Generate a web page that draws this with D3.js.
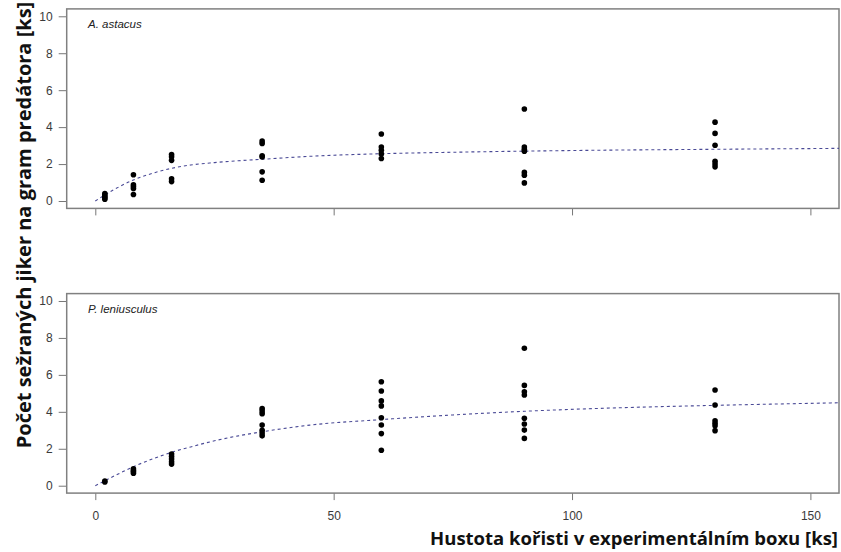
<!DOCTYPE html>
<html>
<head>
<meta charset="utf-8">
<script src="https://cdn.jsdelivr.net/npm/d3@7"></script>
<style>
    body { margin: 0; background: #fff; }
    svg { display: block; }
</style>
</head>
<body>
<svg id="chart" width="841" height="552"></svg>
<script>
// Prey densities used in the experiment
const densities = [2, 8, 16, 35, 60, 90, 130];

// Eaten eggs per gram of predator, A. astacus (one array per density)
const astacusValues = [
    [0.4, 0.32, 0.25, 0.18, 0.1],
    [1.42, 0.88, 0.78, 0.68, 0.35],
    [2.52, 2.4, 2.2, 1.2, 1.05],
    [3.25, 3.12, 2.45, 2.38, 1.58, 1.12],
    [3.63, 2.92, 2.75, 2.55, 2.3],
    [4.98, 2.92, 2.8, 2.7, 1.55, 1.4, 0.98],
    [4.27, 3.66, 3.02, 2.15, 2.0, 1.85],
];

// Eaten eggs per gram of predator, P. leniusculus
const leniusculusValues = [
    [0.25, 0.2],
    [0.92, 0.82, 0.75, 0.68],
    [1.72, 1.58, 1.45, 1.3, 1.17],
    [4.18, 4.05, 3.9, 3.28, 3.0, 2.85, 2.7],
    [5.63, 5.13, 4.59, 4.32, 3.68, 3.29, 2.82, 1.92],
    [7.44, 5.43, 5.09, 4.91, 3.65, 3.34, 3.01, 2.56],
    [5.18, 4.37, 3.52, 3.38, 3.25, 2.98],
];

// Fitted functional response curves
const curveX = [0, 2, 4, 8, 12, 16, 20, 25, 30, 35, 45, 60, 75, 90, 110, 130, 156];
const astacusCurve = [0, 0.33, 0.63, 1.14, 1.5, 1.77, 1.95, 2.08, 2.18, 2.26, 2.42, 2.56, 2.64, 2.7, 2.76, 2.8, 2.85];
const leniusculusCurve = [0, 0.27, 0.53, 1.03, 1.45, 1.81, 2.1, 2.43, 2.7, 2.92, 3.28, 3.58, 3.83, 4.03, 4.22, 4.35, 4.49];

// Ticks
const xTicks = [0, 50, 100, 150];
const yTicks = [0, 2, 4, 6, 8, 10];

const labelFont = '"Liberation Sans", Arial, sans-serif';
const titleFont = '"Open Sans", sans-serif';

const svg = d3.select('#chart');

// Shared x scale (R style: xlim 0..150 extended by 4%)
const xScale = d3.scaleLinear().domain([-6, 156]).range([66.7, 839]);

function styleTicks(axisGroup) {
    axisGroup.select('.domain').remove();
    axisGroup.selectAll('.tick line').attr('stroke', '#777');
    axisGroup.selectAll('.tick text')
      .attr('font-family', labelFont)
      .attr('font-size', 12)
      .attr('fill', '#3a3a3a');
}

function drawPanel(top, bottom, values, curve, species, showXLabels) {
    const yScale = d3.scaleLinear().domain([-0.4, 10.4]).range([bottom, top]);
    const g = svg.append('g');

    // Flatten points
    const points = [];
    densities.forEach((d, i) => {
        values[i].forEach((v) => points.push({ x: d, y: v }));
    });

    // Y axis
    const yAxis = d3.axisLeft(yScale).tickValues(yTicks).tickSize(8).tickPadding(6);
    const yG = g.append('g')
      .attr('transform', `translate(${xScale.range()[0]},0)`)
      .call(yAxis);
    styleTicks(yG);

    // X axis
    const xAxis = d3.axisBottom(xScale).tickValues(xTicks).tickSize(7).tickPadding(11);
    const xG = g.append('g')
      .attr('transform', `translate(0,${bottom})`)
      .call(xAxis);
    styleTicks(xG);
    if (!showXLabels) xG.selectAll('.tick text').remove();

    // Box around plot region
    g.append('rect')
      .attr('x', xScale.range()[0])
      .attr('y', top)
      .attr('width', xScale.range()[1] - xScale.range()[0])
      .attr('height', bottom - top)
      .attr('fill', 'none')
      .attr('stroke', '#808080')
      .attr('stroke-width', 1.5);

    // Fitted curve
    const line = d3.line()
      .x((d, i) => xScale(curveX[i]))
      .y((d) => yScale(d))
      .curve(d3.curveMonotoneX);
    g.append('path')
      .datum(curve)
      .attr('fill', 'none')
      .attr('stroke', '#4a4a96')
      .attr('stroke-width', 1.1)
      .attr('stroke-dasharray', '3,3')
      .attr('d', line);

    // Points
    g.selectAll('circle')
      .data(points)
      .join('circle')
      .attr('cx', (d) => xScale(d.x))
      .attr('cy', (d) => yScale(d.y))
      .attr('r', 2.8)
      .attr('fill', '#000');

    // Species label
    g.append('text')
      .attr('x', 88)
      .attr('y', top + 19)
      .attr('font-family', labelFont)
      .attr('font-size', 11.5)
      .attr('font-style', 'italic')
      .attr('fill', '#222')
      .text(species);
}

drawPanel(8.9, 208.4, astacusValues, astacusCurve, 'A. astacus', false);
drawPanel(293.6, 493.1, leniusculusValues, leniusculusCurve, 'P. leniusculus', true);

// Axis titles
svg.append('text')
  .attr('font-family', titleFont)
  .attr('font-weight', 'bold')
  .attr('font-size', 20)
  .attr('fill', '#111')
  .attr('text-anchor', 'middle')
  .attr('transform', 'translate(31,225) rotate(-90)')
  .text('Počet sežraných jiker na gram predátora [ks]');

svg.append('text')
  .attr('font-family', titleFont)
  .attr('font-weight', 'bold')
  .attr('font-size', 18.5)
  .attr('fill', '#111')
  .attr('text-anchor', 'end')
  .attr('x', 838)
  .attr('y', 545)
  .text('Hustota kořisti v experimentálním boxu [ks]');
</script>
</body>
</html>
